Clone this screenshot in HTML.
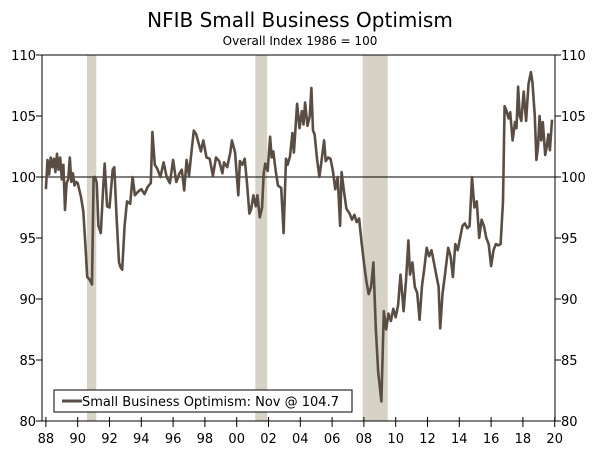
<!DOCTYPE html>
<html><head><meta charset="utf-8"><style>
body{margin:0;background:#fff;}
svg text{font-family:"DejaVu Sans","Liberation Sans",sans-serif;fill:#000;}
</style></head><body>
<svg width="600" height="448" xmlns="http://www.w3.org/2000/svg">
<text x="300" y="27" font-size="20" text-anchor="middle">NFIB Small Business Optimism</text>
<text x="300" y="45" font-size="12" text-anchor="middle">Overall Index 1986 = 100</text>
<g id="rec"></g>
<g id="axes"></g>
<path id="line" fill="none" stroke="#5a4e44" stroke-width="2.6" stroke-linejoin="round"/>
<g>
<rect x="54" y="390" width="298" height="22" fill="#fff" stroke="#000" stroke-width="1"/>
<line x1="62" y1="401" x2="82" y2="401" stroke="#5a4e44" stroke-width="3"/>
<text x="82" y="406" font-size="13">Small Business Optimism: Nov @ 104.7</text>
</g>
</svg>
<script>
const years=[
1988.0,1988.1,1988.2,1988.3,1988.4,1988.5,1988.6,1988.7,1988.8,1988.9,
1989.0,1989.1,1989.2,1989.3,1989.4,1989.5,1989.6,1989.7,1989.8,1989.9,
1990.0,1990.2,1990.35,1990.5,1990.6,1990.75,1990.9,
1991.0,1991.1,1991.2,1991.3,1991.45,1991.6,1991.7,1991.85,
1992.0,1992.2,1992.3,1992.45,1992.6,1992.7,1992.8,1992.95,
1993.1,1993.3,1993.45,1993.6,1993.8,
1994.0,1994.2,1994.4,1994.6,1994.7,1994.85,
1995.0,1995.2,1995.4,1995.6,1995.8,
1996.0,1996.2,1996.4,1996.55,1996.7,1996.85,
1997.0,1997.15,1997.3,1997.45,1997.6,1997.75,1997.9,
1998.1,1998.3,1998.5,1998.7,1998.9,
1999.1,1999.2,1999.4,1999.6,1999.7,1999.9,
2000.1,2000.2,2000.35,2000.5,2000.65,2000.8,2000.9,
2001.05,2001.2,2001.3,2001.45,2001.6,2001.7,2001.8,2001.95,
2002.1,2002.2,2002.3,2002.45,2002.6,2002.8,2002.95,
2003.1,2003.2,2003.35,2003.5,2003.6,2003.8,2003.95,
2004.1,2004.2,2004.3,2004.45,2004.6,2004.7,2004.8,2004.9,
2005.05,2005.2,2005.35,2005.5,2005.6,2005.75,2005.9,
2006.05,2006.2,2006.35,2006.5,2006.6,2006.75,2006.9,
2007.1,2007.25,2007.4,2007.55,2007.7,2007.85,
2008.0,2008.15,2008.3,2008.45,2008.6,2008.75,2008.9,
2009.1,2009.25,2009.4,2009.55,2009.7,2009.85,
2010.0,2010.15,2010.3,2010.4,2010.5,2010.65,2010.8,2010.9,
2011.05,2011.2,2011.35,2011.5,2011.65,2011.8,2011.95,
2012.1,2012.25,2012.4,2012.55,2012.7,2012.8,2012.95,
2013.1,2013.3,2013.45,2013.6,2013.75,2013.9,
2014.05,2014.2,2014.35,2014.5,2014.65,2014.8,2014.95,
2015.1,2015.25,2015.4,2015.55,2015.7,2015.85,
2016.0,2016.15,2016.3,2016.45,2016.6,2016.75,2016.85,2016.95,
2017.1,2017.2,2017.35,2017.5,2017.6,2017.7,2017.8,2017.9,
2018.05,2018.2,2018.35,2018.5,2018.6,2018.75,2018.85,2018.95,
2019.05,2019.15,2019.25,2019.4,2019.5,2019.6,2019.7,2019.83];
const values=[
99.0,101.4,100.2,101.6,100.8,101.5,100.4,101.9,100.6,101.6,
99.8,101.0,97.3,99.5,99.8,101.6,99.6,100.3,99.3,99.6,
99.5,98.4,97.2,94.0,91.8,91.6,91.2,
100.0,100.0,99.5,96.0,95.4,99.0,101.1,97.6,
97.5,100.6,100.8,96.5,93.0,92.6,92.4,96.0,
98.0,97.8,100.0,98.5,98.8,
99.0,98.6,99.2,99.5,103.7,101.0,
100.7,100.0,101.2,100.0,99.5,
101.4,99.6,100.3,100.6,98.9,101.4,
100.1,102.0,103.8,103.5,102.8,102.1,103.0,
101.6,101.5,100.1,101.6,101.3,
100.3,101.2,100.8,102.0,103.0,102.0,
98.5,101.3,101.0,101.5,99.5,97.0,97.3,
98.5,97.6,98.5,96.7,97.5,100.3,101.1,100.5,
103.3,101.6,102.1,100.5,99.3,99.1,95.4,
101.5,101.0,101.7,103.6,102.0,106.0,104.0,
105.4,104.3,106.1,104.2,105.0,107.3,103.8,103.5,
101.5,100.0,101.5,103.0,101.3,101.6,101.5,
100.5,99.0,100.0,96.0,100.4,98.8,97.4,
97.0,96.5,96.9,96.3,96.6,94.7,
93.0,91.5,90.4,91.0,93.0,87.6,84.0,
81.6,89.0,87.5,88.8,88.2,89.2,
88.5,89.5,92.0,90.5,89.0,91.5,94.8,92.0,
93.0,91.0,90.5,88.3,91.0,92.5,94.2,
93.5,94.0,93.0,92.0,91.0,87.6,90.5,
92.0,94.2,93.5,91.8,94.5,94.0,
95.0,96.0,96.2,95.8,96.0,100.0,97.5,
98.0,95.0,96.5,96.0,95.0,94.5,
92.7,94.0,94.5,94.4,94.5,98.0,105.8,105.5,
104.8,105.3,103.0,104.5,104.0,107.4,105.0,104.6,
107.0,104.6,107.6,108.6,107.8,105.0,101.4,102.5,
105.0,103.0,104.5,101.8,102.5,103.5,102.2,104.7];
const ticksX=["88","90","92","94","96","98","00","02","04","06","08","10","12","14","16","18","20"];
const ticksY=[80,85,90,95,100,105,110];
const recessions=[[1990.58,1991.17],[2001.17,2001.92],[2007.92,2009.5]];
const L=42,R=555,T=55,B=421;
const x=yr=>45.9+(yr-1988)*15.9;
const y=v=>B-(v-80)*(B-T)/30;
const NS="http://www.w3.org/2000/svg";
function mk(tag,attrs,parent){const e=document.createElementNS(NS,tag);for(const k in attrs)e.setAttribute(k,attrs[k]);parent.appendChild(e);return e;}
const rec=document.getElementById('rec'),ax=document.getElementById('axes');
recessions.forEach(r=>{const e=mk('rect',{x:x(r[0]),y:T,width:x(r[1])-x(r[0]),height:B-T,fill:'#d6d3c6'},rec);

});
let e=mk('line',{x1:L,y1:T,x2:R,y2:T,stroke:'#000','stroke-width':1},ax);

e=mk('line',{x1:L,y1:T,x2:L,y2:B,stroke:'#000','stroke-width':1},ax);

e=mk('line',{x1:R,y1:T,x2:R,y2:B,stroke:'#000','stroke-width':1},ax);

e=mk('line',{x1:L-6,y1:B,x2:R+6,y2:B,stroke:'#000','stroke-width':1},ax);

e=mk('line',{x1:L,y1:y(100),x2:R,y2:y(100),stroke:'#000','stroke-width':1},ax);

ticksY.forEach(v=>{
 mk('line',{x1:L-6,y1:y(v),x2:L,y2:y(v),stroke:'#000'},ax);
 mk('line',{x1:R,y1:y(v),x2:R+6,y2:y(v),stroke:'#000'},ax);
 let t=mk('text',{x:36,y:y(v)+5,'font-size':13,'text-anchor':'end'},ax);t.textContent=v;
 
 t=mk('text',{x:561,y:y(v)+5,'font-size':13},ax);t.textContent=v;
 
});
ticksX.forEach((lab,i)=>{const xx=x(1988+2*i);
 mk('line',{x1:xx,y1:B-4,x2:xx,y2:B+6,stroke:'#000'},ax);
 const t=mk('text',{x:xx,y:443,'font-size':13,'text-anchor':'middle'},ax);t.textContent=lab;
 
});
document.getElementById('line').setAttribute('d',years.map((yr,i)=>(i?'L':'M')+x(yr).toFixed(1)+','+y(values[i]).toFixed(1)).join(''));
</script>
</body></html>
